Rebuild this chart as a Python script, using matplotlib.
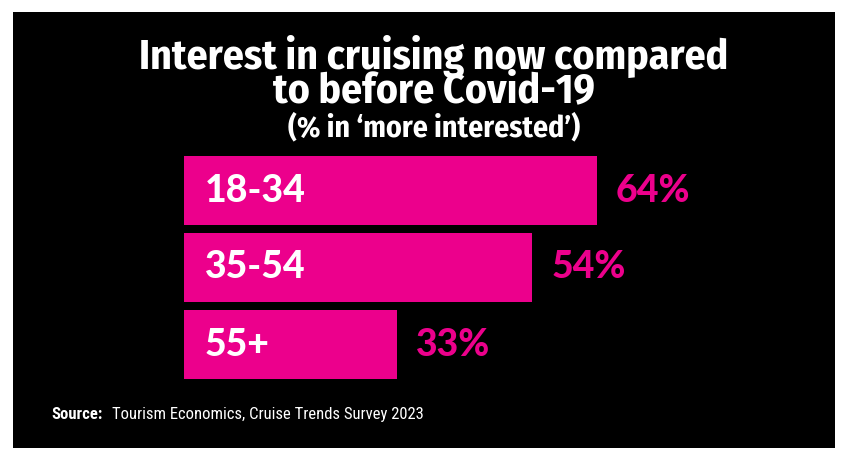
import matplotlib.pyplot as plt
from matplotlib.patches import Rectangle

# Chart data
age_groups = ['18-34', '35-54', '55+']
more_interested = [64, 54, 33]
value_labels = ['64%', '54%', '33%']

title_lines = ['Interest in cruising now compared', 'to before Covid-19']
subtitle = '(% in \u2018more interested\u2019)'
source_text = 'Tourism Economics, Cruise Trends Survey 2023'

pink = '#EC008C'
W, H = 846, 450
head_font = ['Fira Sans Condensed', 'Roboto Condensed', 'DejaVu Sans']
bar_font = ['Lato', 'DejaVu Sans']
note_font = ['Roboto Condensed', 'DejaVu Sans']

fig = plt.figure(figsize=(W / 100, H / 100), dpi=100, facecolor='white')

# black panel behind everything
fig.patches.append(Rectangle((13 / W, 2 / H), 822 / W, 436 / H,
                             transform=fig.transFigure, facecolor='black',
                             edgecolor='none', zorder=-10))

# axes placed in pixel terms
ax = fig.add_axes([184 / W, (H - 383) / H, 645 / W, 231 / H])
ax.set_facecolor('none')
ax.barh(range(len(age_groups)), more_interested, height=0.9, color=pink)
ax.set_xlim(0, 100)
ax.set_ylim(2.5, -0.5)
ax.axis('off')

for i, (grp, val, lab) in enumerate(zip(age_groups, more_interested, value_labels)):
    ax.annotate(grp, xy=(0, i), xytext=(21, 0), textcoords='offset pixels',
                ha='left', va='center', color='white', fontsize=27,
                fontweight=900, family=bar_font)
    ax.annotate(lab, xy=(val, i), xytext=(19, 0), textcoords='offset pixels',
                ha='left', va='center', color=pink, fontsize=27,
                fontweight=900, family=bar_font)

fig.text(434 / W, 1 - 69 / H, title_lines[0], ha='center', va='baseline',
         color='white', fontsize=30, fontweight='bold', family=head_font)
fig.text(434 / W, 1 - 102 / H, title_lines[1], ha='center', va='baseline',
         color='white', fontsize=30, fontweight='bold', family=head_font)
fig.text(434 / W, 1 - 136 / H, subtitle, ha='center', va='baseline',
         color='white', fontsize=21.5, fontweight='bold', family=head_font)

fig.text(51 / W, 1 - 419 / H, 'Source:', ha='left', va='baseline', color='white',
         fontsize=12, fontweight='bold', family=note_font)
fig.text(112 / W, 1 - 419 / H, source_text, ha='left', va='baseline', color='white',
         fontsize=12, family=note_font)

fig.savefig('out.png', dpi=100, facecolor='white')
